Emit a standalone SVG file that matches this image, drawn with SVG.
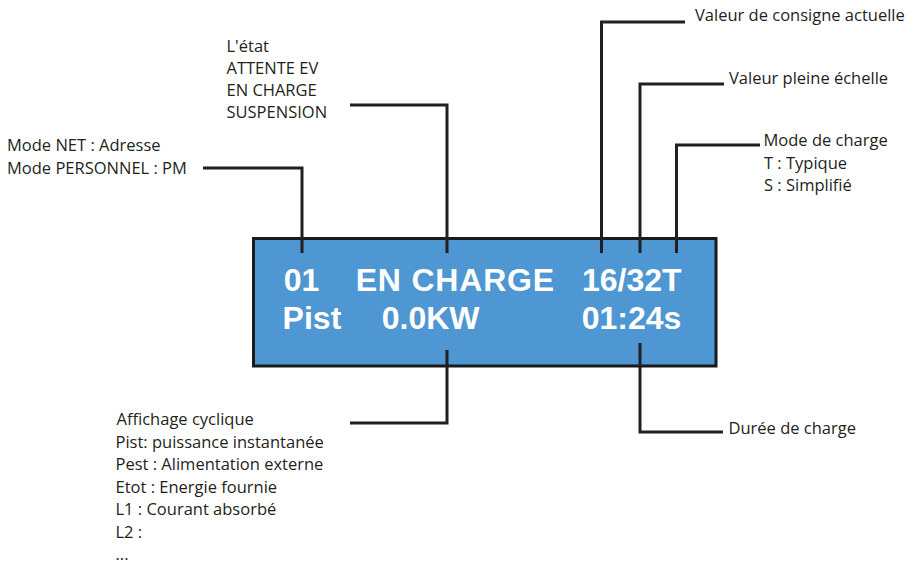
<svg xmlns="http://www.w3.org/2000/svg" width="920" height="568" viewBox="0 0 920 568">
<style>
.lbl{font-family:"Open Sans","Noto Sans","Liberation Sans",sans-serif;font-size:16.5px;fill:#231f20}
.lcd{font-family:"Liberation Sans",Arial,sans-serif;font-size:32px;font-weight:bold;fill:#ffffff}
.con{fill:none;stroke:#231f20;stroke-width:3}
</style>
<rect width="920" height="568" fill="#ffffff"/>
<g id="lcd">
<rect x="253.5" y="238.5" width="462.5" height="127.5" fill="#4f97d2" stroke="#1a1a1a" stroke-width="3"/>
<text class="lcd" x="283.7" y="291">01</text>
<text class="lcd" x="355.7" y="291" letter-spacing="0.8">EN CHARGE</text>
<text class="lcd" x="582" y="291">16/32T</text>
<text class="lcd" x="282.6" y="329">Pist</text>
<text class="lcd" x="381.7" y="329">0.0KW</text>
<text class="lcd" x="581.7" y="329">01:24s</text>
</g>
<g id="connectors">
<path class="con" d="M203,168 H302 V253"/>
<path class="con" d="M350,105 H447 V253"/>
<path class="con" d="M685,22 H601.5 V253"/>
<path class="con" d="M724,84 H640 V253"/>
<path class="con" d="M760,145 H676.5 V253"/>
<path class="con" d="M447,350 V423 H350"/>
<path class="con" d="M640,343 V432 H723"/>
</g>
<g id="label-adresse">
<text class="lbl" x="7" y="151">Mode NET : Adresse</text>
<text class="lbl" x="7" y="173.5">Mode PERSONNEL : PM</text>
</g>
<g id="label-etat">
<text class="lbl" x="226.5" y="52">L'état</text>
<text class="lbl" x="226.5" y="74">ATTENTE EV</text>
<text class="lbl" x="226.5" y="96">EN CHARGE</text>
<text class="lbl" x="226.5" y="118">SUSPENSION</text>
</g>
<g id="label-consigne">
<text class="lbl" x="695" y="21">Valeur de consigne actuelle</text>
</g>
<g id="label-pleine">
<text class="lbl" x="729" y="84">Valeur pleine échelle</text>
</g>
<g id="label-mode">
<text class="lbl" x="763.5" y="146">Mode de charge</text>
<text class="lbl" x="764" y="168.5">T : Typique</text>
<text class="lbl" x="764" y="191">S : Simplifié</text>
</g>
<g id="label-duree">
<text class="lbl" x="728.5" y="434">Durée de charge</text>
</g>
<g id="label-affichage">
<text class="lbl" x="116.5" y="425">Affichage cyclique</text>
<text class="lbl" x="115.5" y="447.5">Pist: puissance instantanée</text>
<text class="lbl" x="115.5" y="470">Pest : Alimentation externe</text>
<text class="lbl" x="115.5" y="492.5">Etot : Energie fournie</text>
<text class="lbl" x="115.5" y="515">L1 : Courant absorbé</text>
<text class="lbl" x="115.5" y="537.5">L2 :</text>
<text class="lbl" x="115.5" y="560">...</text>
</g>
</svg>
